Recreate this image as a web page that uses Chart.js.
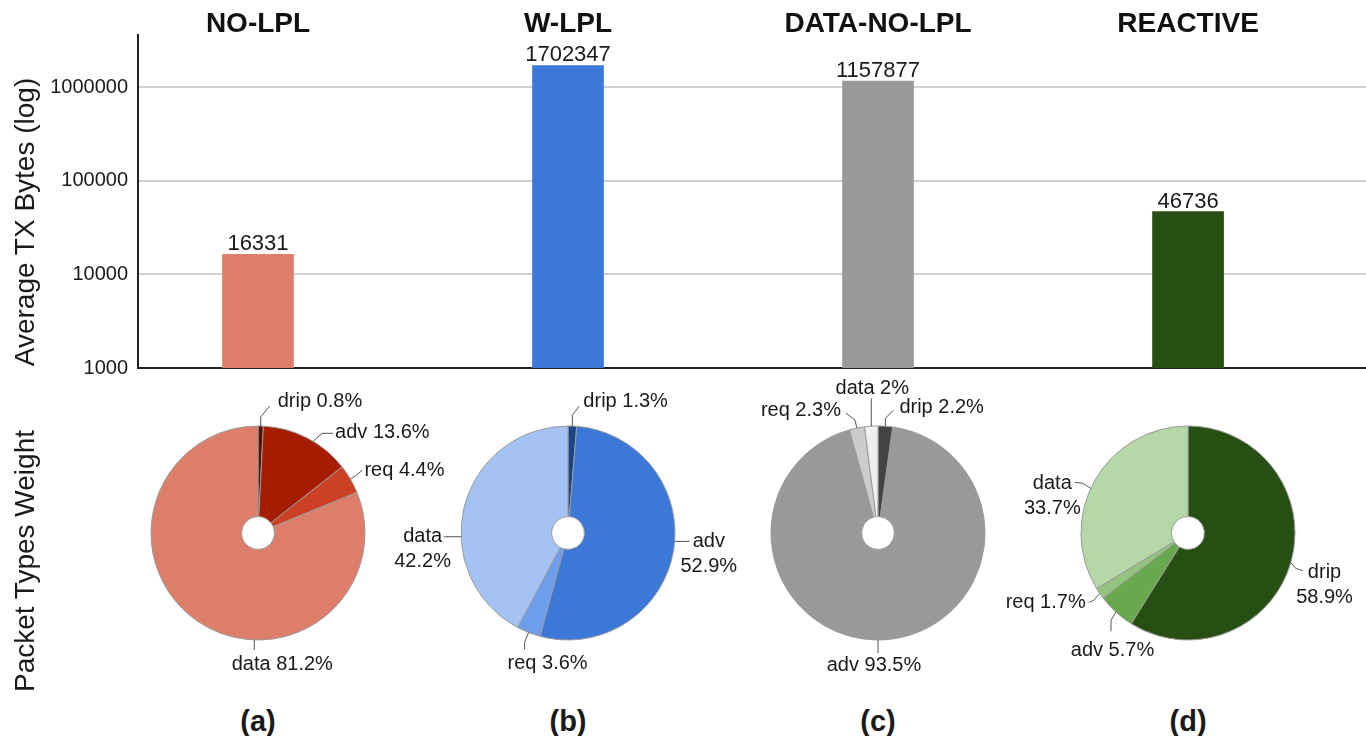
<!DOCTYPE html>
<html>
<head>
<meta charset="utf-8">
<script src="https://cdn.jsdelivr.net/npm/chart.js@4.4.1/dist/chart.umd.min.js"></script>
<style>
  body { margin: 0; width: 1366px; height: 736px; background: #fff; position: relative; overflow: hidden;
         font-family: "Liberation Sans", Arial, sans-serif; color: #1a1a1a; }
  canvas { position: absolute; }
  .vtitle { position: absolute; font-size: 28px; line-height: 1; white-space: nowrap;
            transform: translate(-50%, -50%) rotate(-90deg); }
  .panel { position: absolute; font-size: 29px; font-weight: bold; line-height: 1; white-space: nowrap;
           transform: translate(-50%, -50%); }
</style>
</head>
<body>
<canvas id="bars" width="1366" height="390" style="left:0;top:0"></canvas>
<canvas id="pie0" width="420" height="340"></canvas>
<canvas id="pie1" width="420" height="340"></canvas>
<canvas id="pie2" width="420" height="340"></canvas>
<canvas id="pie3" width="420" height="340"></canvas>
<div class="vtitle" style="left:25px;top:222px">Average TX Bytes (log)</div>
<div class="vtitle" style="left:25px;top:561px">Packet Types Weight</div>
<script>
const protocols = ['NO-LPL', 'W-LPL', 'DATA-NO-LPL', 'REACTIVE'];
const avgTxBytes = [16331, 1702347, 1157877, 46736];
const yTicks = [1000, 10000, 100000, 1000000];

const packetTypes = ['drip', 'adv', 'req', 'data'];
const noLplShare = [0.8, 13.6, 4.4, 81.2];
const wLplShare = [1.3, 52.9, 3.6, 42.2];
const dataNoLplShare = [2.2, 93.5, 2.3, 2];
const reactiveShare = [58.9, 5.7, 1.7, 33.7];
const panelLabels = ['(a)', '(b)', '(c)', '(d)'];

const FONT = '"Liberation Sans", Arial, sans-serif';
const barColors = ['#dd7e6b', '#3c78d8', '#999999', '#274e13'];
const pieColors = [
    ['#5b0f00', '#a61c00', '#cc4125', '#dd7e6b'],
    ['#1c4587', '#3c78d8', '#6d9eeb', '#a4c2f4'],
    ['#434343', '#999999', '#cccccc', '#efefef'],
    ['#274e13', '#6aa84f', '#93c47d', '#b6d7a8']
];

// leader line layout for each slice label (a = rim angle override in degrees, path = leader segments)
const labelLayouts = [
    [
        {path: [[0, -9], [9, -11]], tx: 8, ty: -5, align: 'left'},
        {a: 31, path: [[9, -8], [11, 0]], tx: 2, ty: -1, align: 'left'},
        {path: [[6, -4], [6, -5]], tx: 2, ty: 0, align: 'left'},
        {a: 182, path: [[0, 10]], tx: 28, ty: 15, align: 'center'}
    ],
    [
        {path: [[0, -11], [7, -9]], tx: 4, ty: -5, align: 'left'},
        {a: 94.5, path: [[15, 0]], tx: 3, ty: 0, align: 'left', two: true},
        {path: [[-4, 10], [0, 7]], tx: 23, ty: 14, align: 'center'},
        {a: 268, path: [[-17, 0]], tx: -2, ty: 0, align: 'right', two: true}
    ],
    [
        {path: [[0, -8], [8, -8]], tx: 6, ty: -3, align: 'left'},
        {a: 180, path: [[0, 13]], tx: -4, ty: 12, align: 'center'},
        {path: [[-2, -8], [-9, -7]], tx: -5, ty: -3, align: 'right'},
        {path: [[0, -28]], tx: 1, ty: -10, align: 'center'}
    ],
    [
        {path: [[5, 6], [7, 2]], tx: 5, ty: 2, align: 'left', two: true},
        {path: [[-5, 8], [0, 11]], tx: 1.5, ty: 19, align: 'center'},
        {path: [[-6, 7], [-5, 2]], tx: -3, ty: 0.5, align: 'right'},
        {a: 294.7, path: [[-8, -5], [-8, -1]], tx: -3, ty: 1, align: 'right', two: true}
    ]
];

// value on top of each bar
const barValuePlugin = {
    id: 'barValues',
    afterDatasetsDraw(chart) {
        const ctx = chart.ctx;
        ctx.save();
        ctx.font = '22px ' + FONT;
        ctx.fillStyle = '#1a1a1a';
        ctx.textAlign = 'center';
        ctx.textBaseline = 'alphabetic';
        chart.getDatasetMeta(0).data.forEach((bar, i) => {
            ctx.fillText(String(avgTxBytes[i]), bar.x, bar.y - 4);
        });
        ctx.restore();
    }
};

// outside labels with leader lines for the doughnuts
const pieLabelPlugin = {
    id: 'pieLabels',
    afterDatasetsDraw(chart, args, opts) {
        const ctx = chart.ctx;
        const values = chart.data.datasets[0].data;
        ctx.save();
        ctx.font = '20px ' + FONT;
        ctx.strokeStyle = '#555';
        ctx.lineWidth = 1;
        ctx.fillStyle = '#1a1a1a';
        ctx.textBaseline = 'middle';
        chart.getDatasetMeta(0).data.forEach((arc, i) => {
            const lay = opts.layout[i];
            const p = arc.getProps(['x', 'y', 'startAngle', 'endAngle', 'outerRadius'], true);
            const ang = lay.a !== undefined ? (lay.a - 90) * Math.PI / 180 : (p.startAngle + p.endAngle) / 2;
            let px = p.x + Math.cos(ang) * p.outerRadius;
            let py = p.y + Math.sin(ang) * p.outerRadius;
            ctx.beginPath();
            ctx.moveTo(px, py);
            for (const [dx, dy] of lay.path) {
                px += dx; py += dy;
                ctx.lineTo(px, py);
            }
            ctx.stroke();
            const tx = px + lay.tx, ty = py + lay.ty;
            const name = chart.data.labels[i];
            const pct = values[i] + '%';
            if (lay.two) {
                const w = ctx.measureText(name).width;
                const cx = lay.align === 'left' ? tx + w / 2 : tx - w / 2;
                ctx.textAlign = 'center';
                ctx.fillText(name, cx, ty);
                ctx.fillText(pct, cx, ty + 25);
            } else {
                ctx.textAlign = lay.align;
                ctx.fillText(name + ' ' + pct, tx, ty);
            }
        });
        ctx.restore();
    }
};

const xMin = -0.387, xMax = 3.574;

const barChart = new Chart(document.getElementById('bars'), {
    type: 'bar',
    data: {
        datasets: [{
            data: avgTxBytes.map((v, i) => ({x: i, y: v})),
            backgroundColor: barColors,
            borderWidth: 0,
            barThickness: 71
        }]
    },
    options: {
        responsive: false,
        animation: false,
        layout: {padding: 0},
        plugins: {legend: {display: false}, tooltip: {enabled: false}},
        scales: {
            x: {
                type: 'linear', position: 'bottom', min: xMin, max: xMax, offset: false,
                grid: {display: false, offset: false},
                border: {color: '#222', width: 2},
                ticks: {display: false},
                afterFit(s) { s.height = 14; }
            },
            top: {
                type: 'linear', position: 'top', min: xMin, max: xMax, offset: false,
                grid: {display: false, drawTicks: false, offset: false},
                border: {display: false},
                afterBuildTicks(s) { s.ticks = protocols.map((_, i) => ({value: i})); },
                ticks: {
                    autoSkip: false, maxRotation: 0, padding: -3, color: '#111',
                    font: {family: FONT, size: 28, weight: 'bold', lineHeight: 1},
                    callback: (v) => protocols[v]
                },
                afterFit(s) { s.height = 35; }
            },
            y: {
                type: 'logarithmic', min: 1000, max: 3600000,
                afterBuildTicks(s) { s.ticks = yTicks.map(v => ({value: v})); },
                ticks: {
                    callback: (v) => String(v), color: '#1a1a1a', padding: 10,
                    font: {family: FONT, size: 20}
                },
                grid: {color: '#d0d0d0', lineWidth: 2, drawTicks: false},
                border: {color: '#222', width: 2},
                afterFit(s) { s.width = 138; }
            }
        }
    },
    plugins: [barValuePlugin]
});

const shares = [noLplShare, wLplShare, dataNoLplShare, reactiveShare];
const xScale = barChart.scales.x;

shares.forEach((share, k) => {
    const cx = xScale.getPixelForValue(k);
    const canvas = document.getElementById('pie' + k);
    canvas.style.left = (cx - 210) + 'px';
    canvas.style.top = '363px';
    new Chart(canvas, {
        type: 'doughnut',
        data: {
            labels: packetTypes,
            datasets: [{
                data: share,
                backgroundColor: pieColors[k],
                borderColor: '#9a9a9a',
                borderWidth: 1,
                radius: 107,
                cutout: 26
            }]
        },
        options: {
            responsive: false,
            animation: false,
            layout: {padding: 0},
            plugins: {
                legend: {display: false},
                tooltip: {enabled: false},
                pieLabels: {layout: labelLayouts[k]}
            }
        },
        plugins: [pieLabelPlugin]
    });

    const lbl = document.createElement('div');
    lbl.className = 'panel';
    lbl.textContent = panelLabels[k];
    lbl.style.left = cx + 'px';
    lbl.style.top = '721px';
    document.body.appendChild(lbl);
});
</script>
</body>
</html>
